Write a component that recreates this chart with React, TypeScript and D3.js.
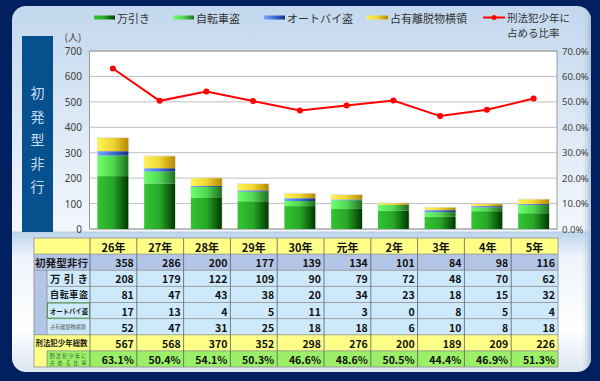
import React from "react";
import * as d3 from "d3";

const years = ["26年", "27年", "28年", "29年", "30年", "元年", "2年", "3年", "4年", "5年"];
const shoplifting = [208, 179, 122, 109, 90, 79, 72, 48, 70, 62];
const bicycle = [81, 47, 43, 38, 20, 34, 23, 18, 15, 32];
const motorbike = [17, 13, 4, 5, 11, 3, 0, 8, 5, 4];
const embezzle = [52, 47, 31, 25, 18, 18, 6, 10, 8, 18];
const initialTotal = [358, 286, 200, 177, 139, 134, 101, 84, 98, 116];
const juvenileTotal = [567, 568, 370, 352, 298, 276, 200, 189, 209, 226];
const ratio = [63.1, 50.4, 54.1, 50.3, 46.6, 48.6, 50.5, 44.4, 46.9, 51.3];
const leftTicks = [0, 100, 200, 300, 400, 500, 600, 700];
const rightTicks = [0, 10, 20, 30, 40, 50, 60, 70];

const seriesKeys = ["万引き", "自転車盗", "オートバイ盗", "占有離脱物横領"];
const seriesGrad = [
  ["#33c433", "#27a827", "#003800"],
  ["#6cff6c", "#52d852", "#1f6f1f"],
  ["#78a6ff", "#3f6fd8", "#13307a"],
  ["#fff455", "#f0d535", "#b88a00"],
];

const W = 600, H = 381;
const P = { l: 89.5, r: 557, t: 51, b: 229 };
const JP = "'Noto Sans CJK JP', 'Noto Sans', sans-serif";

export default function App() {
  const x = d3.scaleBand<string>().domain(years).range([P.l, P.r]).paddingInner(0.34).paddingOuter(0.17);
  const y = d3.scaleLinear().domain([0, 700]).range([P.b, P.t]);
  const y2 = d3.scaleLinear().domain([0, 70]).range([P.b, P.t]);
  const table = years.map((yr, i) => ({
    yr,
    [seriesKeys[0]]: shoplifting[i],
    [seriesKeys[1]]: bicycle[i],
    [seriesKeys[2]]: motorbike[i],
    [seriesKeys[3]]: embezzle[i],
  }));
  const stacked = d3.stack<any>().keys(seriesKeys)(table);
  const line = d3
    .line<number>()
    .x((_, i) => (x(years[i]) as number) + x.bandwidth() / 2)
    .y((v) => y2(v));

  const tx = d3.scaleBand<string>().domain(years).range([90, 558]);
  const rowKeys = ["head", "init", "s0", "s1", "s2", "s3", "total", "ratio"];
  const ty = d3.scaleBand<string>().domain(rowKeys).range([238, 367]);
  const rh = ty.bandwidth();
  const rowFill: Record<string, string> = {
    head: "#ffff88",
    init: "#b4c6e7",
    s0: "#cdeafc",
    s1: "#cdeafc",
    s2: "#cdeafc",
    s3: "#cdeafc",
    total: "#ffff88",
    ratio: "#9cf068",
  };
  const rowVals: Record<string, string[]> = {
    head: years,
    init: initialTotal.map(String),
    s0: shoplifting.map(String),
    s1: bicycle.map(String),
    s2: motorbike.map(String),
    s3: embezzle.map(String),
    total: juvenileTotal.map(String),
    ratio: ratio.map((v) => v.toFixed(1) + "%"),
  };

  const legend = [
    { x: 94, label: "万引き", g: 0 },
    { x: 173, label: "自転車盗", g: 1 },
    { x: 264, label: "オートバイ盗", g: 2 },
    { x: 367, label: "占有離脱物横領", g: 3 },
  ];

  return (
    <svg width={W} height={H} style={{ display: "block", position: "absolute", left: 0, top: 0 }}>
      <defs>
        {seriesGrad.map((c, i) => (
          <linearGradient id={"g" + i} key={i} x1="0" x2="1" y1="0" y2="0">
            <stop offset="0" stopColor={c[0]} />
            <stop offset="0.5" stopColor={c[1]} />
            <stop offset="1" stopColor={c[2]} />
          </linearGradient>
        ))}
        <linearGradient id="upper" x1="0" x2="0" y1="0" y2="1">
          <stop offset="0" stopColor="#c3d8ee" />
          <stop offset="1" stopColor="#f3f7fc" />
        </linearGradient>
        <linearGradient id="lower" x1="0" x2="0" y1="0" y2="1">
          <stop offset="0" stopColor="#bcd4ec" />
          <stop offset="0.18" stopColor="#eef4fa" />
          <stop offset="0.7" stopColor="#ffffff" />
          <stop offset="1" stopColor="#dce7f2" />
        </linearGradient>
        <linearGradient id="redge" x1="0" x2="1" y1="0" y2="0">
          <stop offset="0" stopColor="#c8d8e8" stopOpacity="0" />
          <stop offset="1" stopColor="#a9bfd6" stopOpacity="1" />
        </linearGradient>
        <clipPath id="panel">
          <rect x={12} y={6} width={579} height={366} rx={14} />
        </clipPath>
      </defs>

      <rect x={0} y={0} width={W} height={H} fill="#002060" />
      <g clipPath="url(#panel)">
        <rect x={12} y={6} width={579} height={226} fill="url(#upper)" />
        <rect x={12} y={232} width={579} height={140} fill="url(#lower)" />
        <rect x={582} y={6} width={9} height={366} fill="url(#redge)" />
        <line x1={12} x2={591} y1={232} y2={232} stroke="#b0c8e0" strokeWidth={0.8} />
      </g>

      <rect x={22} y={36} width={31} height={196} fill="#06508e" />
      {"初発型非行".split("").map((ch, i) => (
        <text key={i} x={37.5} y={92 + i * 23.5} fill="#c6dcf2" fontSize={14} fontFamily={JP} textAnchor="middle" dominantBaseline="central">
          {ch}
        </text>
      ))}

      {legend.map((l, i) => (
        <g key={i}>
          <rect x={l.x} y={15.5} width={21} height={4} fill={"url(#g" + l.g + ")"} />
          <text x={l.x + 23} y={18} fontSize={11} fontFamily={JP} fill="#333" dominantBaseline="central">
            {l.label}
          </text>
        </g>
      ))}
      <line x1={483} x2={505} y1={17.5} y2={17.5} stroke="#ff0000" strokeWidth={2} />
      <circle cx={494} cy={17.5} r={2.5} fill="#ff0000" />
      <text x={507} y={17.5} fontSize={10.5} fontFamily={JP} fill="#333" dominantBaseline="central">
        刑法犯少年に
      </text>
      <text x={507} y={32.5} fontSize={10.5} fontFamily={JP} fill="#333" dominantBaseline="central">
        占める比率
      </text>

      <rect x={P.l} y={P.t} width={P.r - P.l} height={P.b - P.t} fill="#ffffff" />
      {leftTicks.map((t) => (
        <line key={t} x1={P.l} x2={P.r} y1={y(t)} y2={y(t)} stroke="#c0c0c0" strokeWidth={1} />
      ))}
      <rect x={P.l} y={P.t} width={P.r - P.l} height={P.b - P.t} fill="none" stroke="#9a9a9a" strokeWidth={1} />
      {leftTicks.map((t) => (
        <text key={t} x={82} y={y(t)} fontSize={10} fontFamily="'Noto Sans', sans-serif" fill="#404040" textAnchor="end" dominantBaseline="central">
          {t}
        </text>
      ))}
      <text x={73} y={36} fontSize={10} fontFamily={JP} fill="#404040" textAnchor="middle" dominantBaseline="central">
        (人)
      </text>
      {rightTicks.map((t) => (
        <text key={t} x={562} y={y2(t)} fontSize={9.5} fontFamily="'Noto Sans', sans-serif" fill="#404040" dominantBaseline="central">
          {t.toFixed(1) + "%"}
        </text>
      ))}

      {years.map((yr, i) => (
        <rect key={"sh" + yr} x={(x(yr) as number) - 0.5} y={y(initialTotal[i]) - 1} width={x.bandwidth() + 1.5} height={P.b - y(initialTotal[i]) + 1} fill="#d0d0d0" opacity={0.5} />
      ))}
      {stacked.map((s, si) => (
        <g key={si} fill={"url(#g" + si + ")"}>
          {s.map((d, i) =>
            d[1] - d[0] > 0 ? (
              <rect key={i} x={x(years[i])} y={y(d[1])} width={x.bandwidth()} height={y(d[0]) - y(d[1])} />
            ) : null
          )}
        </g>
      ))}

      <path d={line(ratio) || ""} fill="none" stroke="#ff0000" strokeWidth={2} />
      {ratio.map((v, i) => (
        <circle key={i} cx={(x(years[i]) as number) + x.bandwidth() / 2} cy={y2(v)} r={3} fill="#ff0000" />
      ))}

      <rect x={34} y={238} width={524} height={129} fill="#ffffff" />
      {rowKeys.map((k) => (
        <rect key={k} x={34} y={ty(k)} width={524} height={rh} fill={rowFill[k]} />
      ))}
      <rect x={34} y={ty("s0")} width={13} height={rh * 4} fill="#b4c6e7" />
      <rect x={34} y={ty("ratio")} width={13} height={rh} fill="#ffff88" />
      {rowKeys.slice(1).map((k) => {
        const partial = (k.startsWith("s") && k !== "s0") || k === "ratio";
        return <line key={k} x1={partial ? 47 : 34} x2={558} y1={ty(k)} y2={ty(k)} stroke="#8c8c8c" strokeWidth={0.8} />;
      })}
      <line x1={47} x2={47} y1={ty("s0")} y2={(ty("s3") as number) + rh} stroke="#8c8c8c" strokeWidth={0.8} />
      <line x1={47} x2={47} y1={ty("ratio")} y2={367} stroke="#8c8c8c" strokeWidth={0.8} />
      {years.map((yr) => (
        <line key={yr} x1={tx(yr)} x2={tx(yr)} y1={238} y2={367} stroke="#5f5f5f" strokeWidth={0.8} />
      ))}
      <rect x={34} y={238} width={524} height={129} fill="none" stroke="#8c8c8c" strokeWidth={0.8} />
      <rect x={47.5} y={(ty("s2") as number) + 0.5} width={42} height={rh - 1} fill="none" stroke="#4d9a4d" strokeWidth={1} />

      <text x={35} y={(ty("init") as number) + rh / 2} fontSize={10.5} fontWeight="bold" fontFamily={JP} fill="#1a1a1a" dominantBaseline="central" textLength={53} lengthAdjust="spacingAndGlyphs">
        初発型非行
      </text>
      <text x={50} y={(ty("s0") as number) + rh / 2} fontSize={10.5} fontWeight="bold" fontFamily={JP} fill="#1a1a1a" dominantBaseline="central" textLength={38} lengthAdjust="spacing">
        万引き
      </text>
      <text x={50} y={(ty("s1") as number) + rh / 2} fontSize={9} fontWeight="bold" fontFamily={JP} fill="#1a1a1a" dominantBaseline="central" textLength={38} lengthAdjust="spacing">
        自転車盗
      </text>
      <text x={50} y={(ty("s2") as number) + rh / 2} fontSize={7} fontWeight="bold" fontFamily={JP} fill="#1a1a1a" dominantBaseline="central" textLength={38} lengthAdjust="spacingAndGlyphs">
        オートバイ盗
      </text>
      <text x={50} y={(ty("s3") as number) + rh / 2} fontSize={5.2} fontFamily={JP} fill="#555" dominantBaseline="central" textLength={36} lengthAdjust="spacingAndGlyphs">
        占有離脱物横領
      </text>
      <text x={35.5} y={(ty("total") as number) + rh / 2} fontSize={7.5} fontWeight="bold" fontFamily={JP} fill="#1a1a1a" dominantBaseline="central" textLength={52} lengthAdjust="spacingAndGlyphs">
        刑法犯少年総数
      </text>
      <text x={49.5} y={(ty("ratio") as number) + 4.6} fontSize={5.2} fontFamily={JP} fill="#3a5a3a" dominantBaseline="central" textLength={37} lengthAdjust="spacing">
        刑法犯少年に
      </text>
      <text x={49.5} y={(ty("ratio") as number) + 11.6} fontSize={5.2} fontFamily={JP} fill="#3a5a3a" dominantBaseline="central" textLength={37} lengthAdjust="spacing">
        占める比率
      </text>

      {rowKeys.map((k) =>
        years.map((yr, i) => {
          const isHead = k === "head";
          const cx = isHead ? (tx(yr) as number) + tx.bandwidth() / 2 : (tx(yr) as number) + tx.bandwidth() - 3;
          return (
            <text
              key={k + yr}
              x={cx}
              y={(ty(k) as number) + rh / 2 + 0.5}
              fontSize={isHead ? 11 : 10.5}
              fontWeight="bold"
              fontFamily={JP}
              fill="#111"
              textAnchor={isHead ? "middle" : "end"}
              dominantBaseline="central"
            >
              {rowVals[k][i]}
            </text>
          );
        })
      )}
    </svg>
  );
}
